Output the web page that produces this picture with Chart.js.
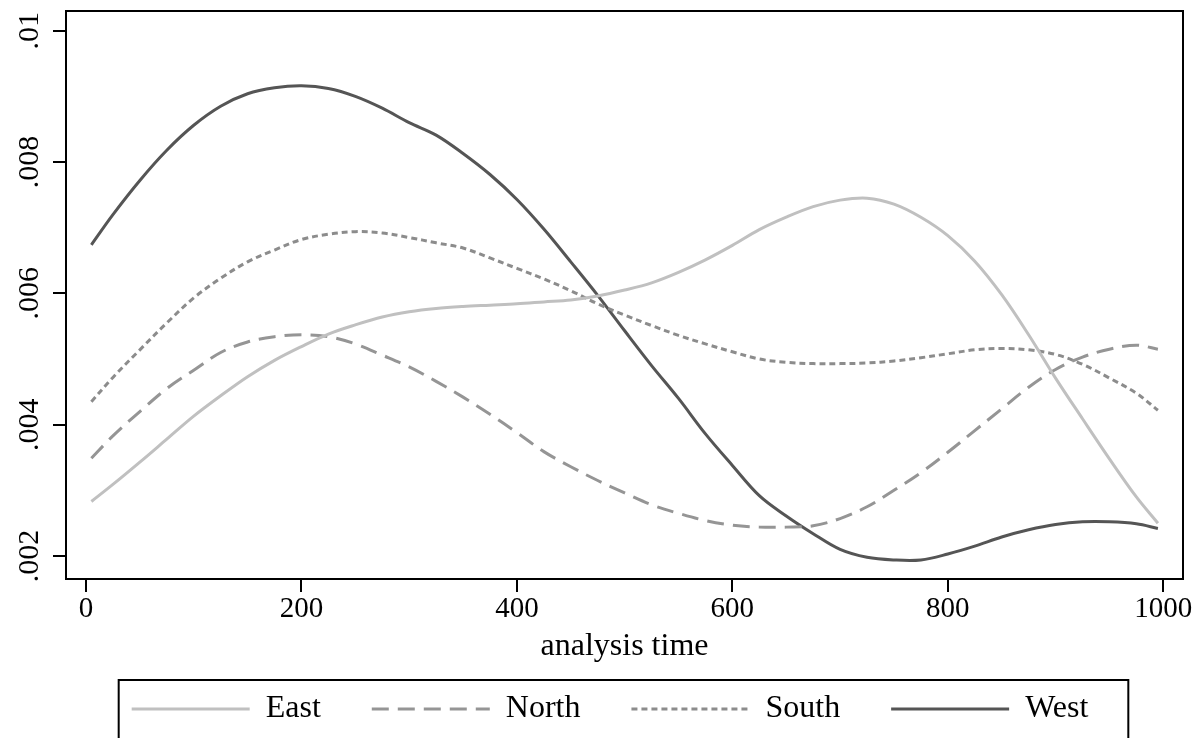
<!DOCTYPE html>
<html>
<head>
<meta charset="utf-8">
<title>Smoothed hazard by region</title>
<script src="https://cdn.jsdelivr.net/npm/chart.js@4/dist/chart.umd.min.js"></script>
<style>
  html, body { margin: 0; padding: 0; background: #fff; overflow: hidden; }
  #wrap { width: 1198px; height: 738px; }
</style>
</head>
<body>
<div id="wrap"><canvas id="hazard" width="1198" height="738"></canvas></div>
<script>
// analysis time grid
const times = [5, 25, 50, 75, 100, 125, 150, 175, 200, 225, 250, 275, 300, 325, 350, 375, 400,
  425, 450, 475, 500, 525, 550, 575, 600, 625, 650, 675, 700, 725, 750, 775, 800,
  825, 850, 875, 900, 925, 950, 975, 995];

// smoothed hazard per region
const east = [.00283, .00309, .00343, .00378, .00413, .00444, .00473, .00498, .00519, .00538,
  .00552, .00564, .00572, .00577, .00580, .00582, .00584, .00587, .00590, .00596,
  .00605, .00616, .00632, .00651, .00673, .00697, .00716, .00732, .00742, .00745,
  .00736, .00716, .00688, .00649, .00598, .00537, .00471, .00409, .00348, .00290, .00250];
const north = [.00349, .00383, .00420, .00455, .00483, .00510, .00526, .00534, .00537, .00534,
  .00523, .00506, .00488, .00466, .00442, .00416, .00388, .00359, .00336, .00315,
  .00296, .00278, .00265, .00254, .00247, .00244, .00244, .00246, .00257, .00275,
  .00300, .00327, .00358, .00391, .00424, .00457, .00484, .00503, .00515, .00521, .00515];
const south = [.00435, .00472, .00514, .00555, .00593, .00623, .00648, .00666, .00682, .00690,
  .00694, .00692, .00685, .00677, .00669, .00654, .00638, .00622, .00604, .00584,
  .00567, .00551, .00536, .00523, .00511, .00500, .00495, .00493, .00493, .00494,
  .00497, .00502, .00508, .00514, .00516, .00514, .00507, .00492, .00471, .00448, .00422];
const west = [.00674, .00720, .00772, .00818, .00856, .00885, .00904, .00913, .00916, .00912,
  .00900, .00882, .00860, .00841, .00813, .00781, .00743, .00698, .00648, .00597,
  .00543, .00490, .00440, .00386, .00338, .00292, .00261, .00234, .00210, .00198,
  .00194, .00194, .00203, .00215, .00229, .00240, .00248, .00252, .00252, .00249, .00242];

const xTicks = [0, 200, 400, 600, 800, 1000];
const yTicks = [.002, .004, .006, .008, .01];
const yLabels = ['.002', '.004', '.006', '.008', '.01'];

const serif = '"Liberation Serif", "Times New Roman", serif';
Chart.defaults.font.family = serif;
Chart.defaults.color = '#000';

const legendGap = 51;   // space between legend entries

function toPoints(values) {
    return times.map((t, i) => ({ x: t, y: values[i] }));
}

function series(label, values, color, dash) {
    return {
        label: label,
        data: toPoints(values),
        borderColor: color,
        backgroundColor: color,
        borderWidth: 3,
        borderDash: dash,
        borderCapStyle: 'butt',
        pointRadius: 0,
        tension: 0.35,
        fill: false
    };
}

// plot frame, rotated y labels and the legend box
const framePlugin = {
    id: 'frame',
    afterDraw(chart) {
        const ctx = chart.ctx;
        const a = chart.chartArea;
        ctx.save();
        ctx.strokeStyle = '#000';
        ctx.lineWidth = 2;
        ctx.setLineDash([]);
        ctx.strokeRect(a.left, a.top, a.right - a.left, a.bottom - a.top);

        const y = chart.scales.y;
        ctx.fillStyle = '#000';
        ctx.font = '30px ' + serif;
        ctx.textAlign = 'center';
        ctx.textBaseline = 'alphabetic';
        yTicks.forEach((v, i) => {
            ctx.save();
            ctx.translate(38, y.getPixelForValue(v));
            ctx.rotate(-Math.PI / 2);
            ctx.fillText(yLabels[i], 0, 0);
            ctx.restore();
        });

        const lg = chart.legend;
        const hb = lg.legendHitBoxes;
        const last = hb[hb.length - 1];
        const l = hb[0].left - 13;
        const r = last.left + last.width + 40;
        const top = lg.top + legendGap + 16 - 29;
        ctx.strokeRect(l, top, r - l, chart.height + 20 - top);
        ctx.restore();
    }
};

new Chart(document.getElementById('hazard'), {
    type: 'line',
    data: {
        datasets: [
            series('East', east, '#c0c0c0', []),
            series('North', north, '#959595', [17, 9]),
            series('South', south, '#8c8c8c', [6, 4]),
            series('West', west, '#555555', [])
        ]
    },
    options: {
        responsive: false,
        animation: false,
        layout: { padding: { left: 37, right: 15, top: 11, bottom: 3 } },
        plugins: {
            tooltip: { enabled: false },
            legend: {
                position: 'bottom',
                labels: {
                    usePointStyle: true,
                    pointStyle: 'line',
                    pointStyleWidth: 118,
                    padding: legendGap,
                    color: '#000',
                    font: { size: 32 },
                    generateLabels: chart => Chart.defaults.plugins.legend.labels.generateLabels(chart)
                        .map(item => {
                            const ds = chart.data.datasets[item.datasetIndex];
                            item.lineDash = ds.borderDash;
                            item.strokeStyle = ds.borderColor;
                            item.lineWidth = ds.borderWidth;
                            item.lineCap = 'butt';
                            return item;
                        })
                }
            }
        },
        scales: {
            x: {
                type: 'linear',
                min: -18.56,
                max: 1018.3,
                afterBuildTicks: s => { s.ticks = xTicks.map(v => ({ value: v })); },
                afterFit: s => { s.height = 63; },
                border: { display: false },
                grid: { drawOnChartArea: false, drawTicks: true, tickLength: 13, color: '#000', lineWidth: 2 },
                ticks: { padding: 0, maxRotation: 0, autoSkip: false, font: { size: 29 }, color: '#000',
                    callback: v => String(v) },
                title: { display: true, text: 'analysis time', color: '#000',
                    font: { size: 32 }, padding: { top: 0, bottom: -24 } }
            },
            y: {
                type: 'linear',
                min: 0.00165,
                max: 0.0103,
                afterBuildTicks: s => { s.ticks = yTicks.map(v => ({ value: v })); },
                afterFit: s => { s.width = 29; },
                border: { display: false },
                grid: { drawOnChartArea: false, drawTicks: true, tickLength: 13, color: '#000', lineWidth: 2 },
                ticks: { display: false }
            }
        }
    },
    plugins: [framePlugin]
});
</script>
</body>
</html>
